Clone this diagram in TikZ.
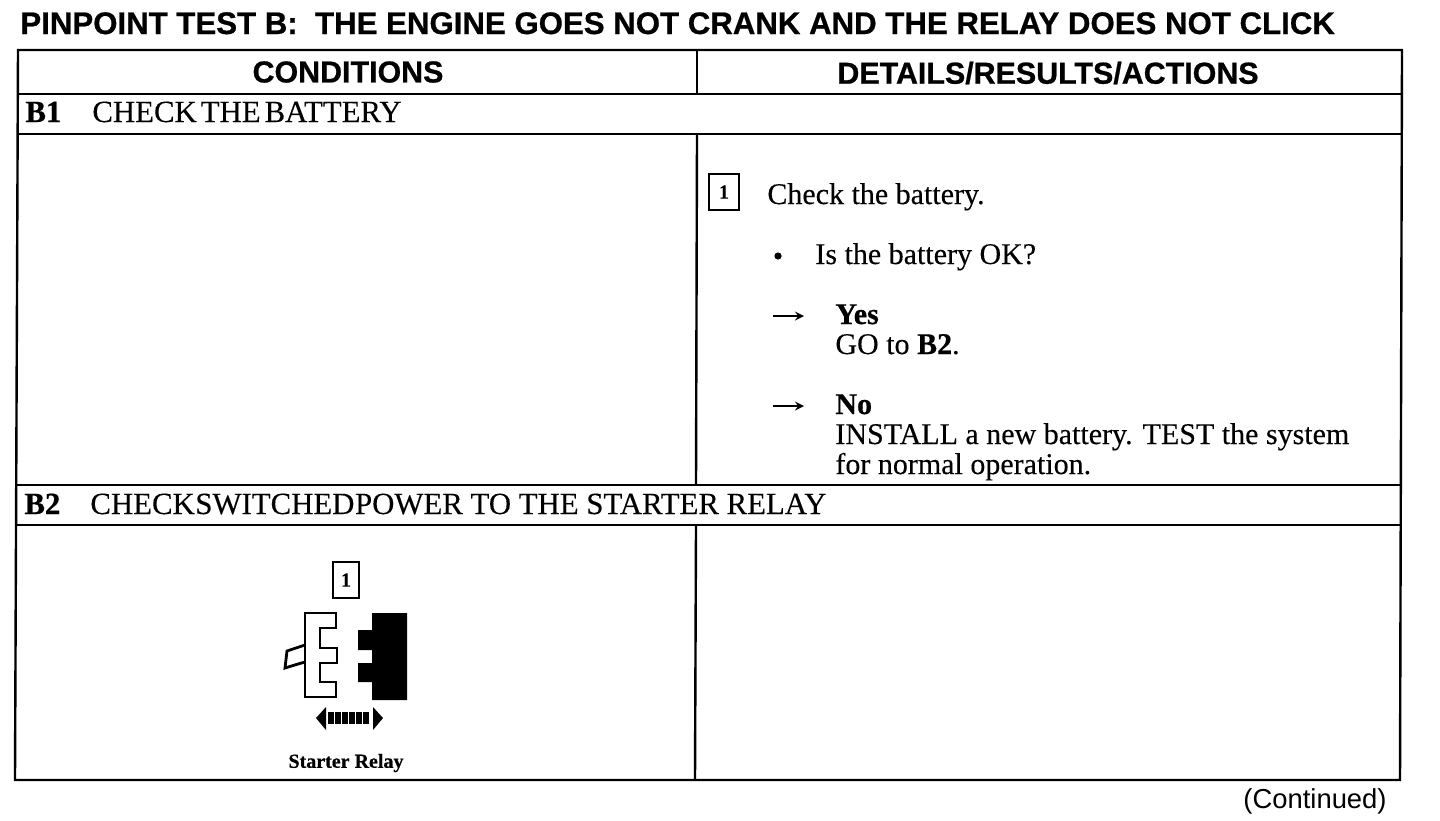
\documentclass[tikz,border=0pt]{standalone}
\usepackage{fontspec}
\setmainfont[FakeBold=0.25,BoldFeatures={FakeBold=0.5}]{Liberation Serif}
\newfontfamily\headfont[BoldFeatures={FakeBold=0.7}]{Liberation Sans}
\tikzset{
	rule/.style={line width=1.2pt},
	headtext/.style={font=\headfont\bfseries\fontsize{15.6}{18}\selectfont,inner sep=0pt},
	coltext/.style={font=\headfont\bfseries\fontsize{15.2}{18}\selectfont,inner sep=0pt},
	rowtext/.style={font=\fontsize{15.4}{16}\selectfont,anchor=base west,inner sep=0pt},
	bodytext/.style={font=\fontsize{15}{16}\selectfont,anchor=base west,inner sep=0pt},
	numbox/.style={draw,line width=0.9pt,minimum width=15pt,minimum height=18pt,inner sep=0pt,font=\bfseries\fontsize{10}{10}\selectfont},
}
\begin{document}
\begin{tikzpicture}[x=0.5pt,y=-0.5pt]
	\useasboundingbox (0,0) rectangle (1440,820);
	\node[headtext,anchor=base west] (title) at (20,34){PINPOINT TEST B:\ \ THE ENGINE GOES NOT CRANK AND THE RELAY DOES NOT CLICK};
	% table rules
	\draw[rule] (18,50)--(1402,50)--(1400,780)--(15,780)--cycle;
	\draw[rule] (17,94)--(1402,94);
	\draw[rule] (17,134)--(1402,134);
	\draw[rule] (16,485)--(1401,485);
	\draw[rule] (16,525)--(1401,525);
	\draw[rule] (697,50)--(697,94);
	\draw[rule] (697,134)--(696,485);
	\draw[rule] (696,525)--(695,780);
	% headers
	\node[coltext] (conditions) at (348,72){CONDITIONS};
	\node[coltext] (details) at (1048,73){DETAILS/RESULTS/ACTIONS};
	\node[rowtext] (bone) at (25,122){\textbf{B1}};
	\node[rowtext] (bonetext) at (92,122){CHECK\kern2pt THE\kern2pt BATTERY};
	\node[rowtext] (btwo) at (24,514){\textbf{B2}};
	\node[rowtext] (btwotext) at (90,514){CHECK\kern0.3pt SWITCHED\kern0.3pt POWER TO THE STARTER RELAY};
	% right column
	\node[numbox] (stepone) at (724,192){1};
	\node[bodytext] (check) at (767,204){Check the battery.};
	\fill (778,256) circle(1.8pt) coordinate (dot);
	\node[bodytext] (isok) at (815,264){Is the battery OK?};
	\coordinate (yesa) at (773,316);
	\coordinate (yesb) at (804,316);
	\draw[-stealth,line width=1pt] (yesa)--(yesb);
	\node[bodytext] (yes) at (835,324){\textbf{Yes}};
	\node[bodytext] (goto) at (835,354){GO to \textbf{B2}.};
	\coordinate (noa) at (773,406);
	\coordinate (nob) at (804,406);
	\draw[-stealth,line width=1pt] (noa)--(nob);
	\node[bodytext] (no) at (835,414){\textbf{No}};
	\node[bodytext] (install) at (835,444){INSTALL a new battery. TEST the system};
	\node[bodytext] (normal) at (835,474){for normal operation.};
	% relay
	\node[numbox,minimum width=13pt] (relaynum) at (346,580){1};
	\draw[line width=1.4pt] (305,613)--(336,613)--(336,628)--(320,628)--(320,648)--(337,648)--(337,663)--(320,663)--(320,682)--(336,682)--(336,697)--(305,697)--cycle;
	\draw[line width=1.4pt] (305,645)--(287,651)--(285,668)--(298,664)--(305,662);
	\fill (372,613)--(407,613)--(407,700)--(372,700)--(372,682)--(358,682)--(358,663)--(372,663)--(372,650)--(358,650)--(358,630)--(372,630)--cycle;
	\fill (316,718)--(326,707)--(326,730)--cycle;
	\fill (383,718)--(373,707)--(373,730)--cycle;
	\foreach \x in {328,335,342,349,356,363}{
		\fill (\x,712) rectangle ++(6,12);
	}
	\node[font=\bfseries\fontsize{10}{10}\selectfont,inner sep=0pt] (relaylabel) at (346,763){Starter Relay};
	\node[font=\headfont\fontsize{13.7}{14}\selectfont,anchor=base east,inner sep=0pt] (cont) at (1387,808){(Continued)};
\end{tikzpicture}
\end{document}
